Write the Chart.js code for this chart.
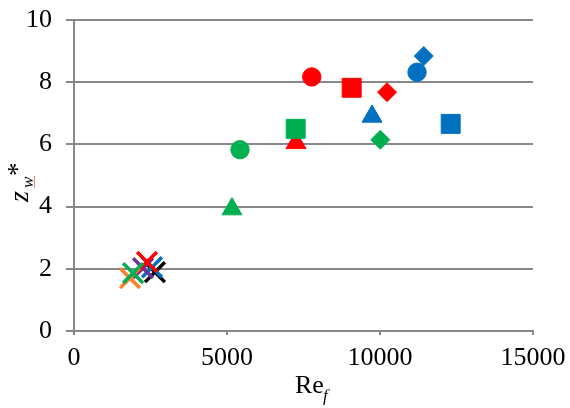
<!DOCTYPE html>
<html>
<head>
<meta charset="utf-8">
<script src="https://cdn.jsdelivr.net/npm/chart.js@4"></script>
<style>html,body{margin:0;padding:0;background:#fff}</style>
</head>
<body>
<canvas id="myChart" width="570" height="408"></canvas>
<script>
const xTicks = [0, 5000, 10000, 15000];
const yTicks = [0, 2, 4, 6, 8, 10];

// filled markers, grouped by colour
const greenRe = [5425, 5163, 7245, 10010];
const greenZ = [5.83, 3.92, 6.5, 6.15];
const redRe = [7770, 7255, 9075, 10230];
const redZ = [8.17, 6.05, 7.82, 7.68];
const blueRe = [11430, 9740, 12310, 11210];
const blueZ = [8.84, 6.9, 6.66, 8.32];

// the cross markers near the origin
const crossRe = [1930, 1830, 2385, 2255, 2550, 2645];
const crossZ = [1.86, 1.7, 2.22, 2.02, 2.05, 1.89];

const greenShapes = ['circle', 'triangle', 'rect', 'rectRot'];
const redShapes = ['circle', 'triangle', 'rect', 'rectRot'];
const blueShapes = ['rectRot', 'triangle', 'rect', 'circle'];
const crossColors = ['#00B050', '#FF7F27', '#FF0000', '#7030A0', '#0070C0', '#000000'];

const shapeSize = {circle: 9.2, triangle: 11.5, rect: 13.4, rectRot: 9.5};

const GRID = '#888888';
const FONT = '"Liberation Serif", "Times New Roman", serif';

function pts(xs, ys) {
  return xs.map((x, i) => ({x: x, y: ys[i]}));
}

function markerSet(xs, ys, shapes, color) {
  return {
    data: pts(xs, ys),
    pointStyle: shapes,
    pointRadius: shapes.map(s => shapeSize[s]),
    pointHoverRadius: shapes.map(s => shapeSize[s]),
    backgroundColor: color,
    borderColor: color,
    pointBorderWidth: 1,
    showLine: false
  };
}

const crossSets = crossRe.map((x, i) => ({
  data: [{x: x, y: crossZ[i]}],
  pointStyle: 'crossRot',
  pointRadius: 14,
  pointHoverRadius: 14,
  borderColor: crossColors[i],
  backgroundColor: crossColors[i],
  pointBorderWidth: 3.5,
  showLine: false
}));

// axis titles with sub/superscripts
const axisTitles = {
  id: 'axisTitles',
  afterDraw(chart) {
    const ctx = chart.ctx;
    ctx.save();
    ctx.fillStyle = '#000';
    ctx.textAlign = 'left';
    ctx.textBaseline = 'alphabetic';

    ctx.font = '26px ' + FONT;
    ctx.fillText('Re', 295, 393);
    ctx.font = 'italic 17px ' + FONT;
    ctx.fillText('f', 323, 401);

    ctx.translate(28, 202);
    ctx.rotate(-Math.PI / 2);
    ctx.font = 'italic 28px ' + FONT;
    ctx.fillText('z', 0, 0);
    ctx.font = 'italic 17px ' + FONT;
    ctx.fillText('w', 14, 5);
    ctx.strokeStyle = '#f08080';
    ctx.lineWidth = 1;
    ctx.beginPath();
    ctx.moveTo(14, 6.5);
    ctx.lineTo(26, 6.5);
    ctx.stroke();
    ctx.font = '27px ' + FONT;
    ctx.fillText('*', 26, -2);
    ctx.restore();
  }
};

const options = {
  type: 'scatter',
  data: {
    datasets: [
      markerSet(greenRe, greenZ, greenShapes, '#00B050'),
      markerSet(redRe, redZ, redShapes, '#FF0000'),
      markerSet(blueRe, blueZ, blueShapes, '#0070C0'),
      ...crossSets
    ]
  },
  options: {
    responsive: false,
    animation: false,
    layout: {padding: {top: 20, right: 37, left: 0, bottom: 0}},
    plugins: {
      legend: {display: false},
      tooltip: {enabled: false}
    },
    scales: {
      x: {
        min: 0,
        max: 15000,
        afterBuildTicks: s => { s.ticks = xTicks.map(v => ({value: v})); },
        afterFit: s => { s.height = 77; s.paddingLeft = 0; s.paddingRight = 0; },
        grid: {drawOnChartArea: false, drawTicks: true, tickLength: 4, color: GRID, lineWidth: 2},
        border: {display: true, color: GRID, width: 2},
        ticks: {color: '#000', padding: 8, maxRotation: 0, font: {family: FONT, size: 26},
          callback: v => String(v)}
      },
      y: {
        min: 0,
        max: 10,
        afterBuildTicks: s => { s.ticks = yTicks.map(v => ({value: v})); },
        afterFit: s => { s.width = 74; s.paddingTop = 0; s.paddingBottom = 0; },
        grid: {color: GRID, lineWidth: 2, drawTicks: true, tickLength: 8},
        border: {display: true, color: GRID, width: 2},
        ticks: {color: '#000', padding: 14, font: {family: FONT, size: 26, lineHeight: 1},
          callback: v => String(v)}
      }
    }
  },
  plugins: [axisTitles]
};

const ctx = document.getElementById('myChart').getContext('2d');
new Chart(ctx, options);
</script>
</body>
</html>
